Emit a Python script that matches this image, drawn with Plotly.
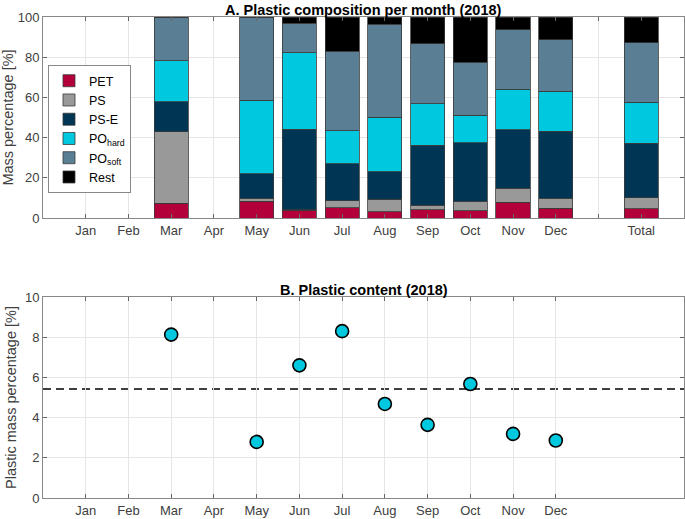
import plotly.graph_objects as go

# ---- data ----
months = ["Jan", "Feb", "Mar", "Apr", "May", "Jun", "Jul", "Aug", "Sep", "Oct", "Nov", "Dec"]
bar_labels = ["Mar", "May", "Jun", "Jul", "Aug", "Sep", "Oct", "Nov", "Dec", "Total"]
bar_pos = [3, 5, 6, 7, 8, 9, 10, 11, 12, 14]

PET = [7.4, 8.4, 3.8, 5.1, 3.1, 4.0, 3.6, 7.8, 4.8, 4.6]
PS = [35.6, 1.4, 0.3, 3.5, 6.3, 2.3, 4.7, 6.9, 5.0, 5.5]
PS_E = [14.9, 12.2, 40.0, 18.3, 13.6, 29.9, 29.2, 29.1, 33.3, 27.1]
PO_hard = [20.4, 36.7, 38.2, 16.6, 27.1, 20.7, 13.6, 20.2, 19.9, 20.3]
PO_soft = [21.7, 41.3, 14.7, 39.5, 46.3, 29.9, 26.4, 29.7, 25.6, 29.8]
Rest = [0.0, 0.0, 3.0, 17.0, 3.6, 13.2, 22.5, 6.3, 11.4, 12.7]

content_pos = [3, 5, 6, 7, 8, 9, 10, 11, 12]
content = [8.13, 2.79, 6.60, 8.30, 4.68, 3.64, 5.67, 3.19, 2.86]
content_mean = 5.42

top_ticks = list(range(1, 15))
top_ticklabels = months + ["", "Total"]
bottom_ticks = list(range(1, 13))

series = [
    ("PET", PET, "#B4003A"),
    ("PS", PS, "#999999"),
    ("PS-E", PS_E, "#003554"),
    ("PO<sub>hard</sub>", PO_hard, "#00C8DE"),
    ("PO<sub>soft</sub>", PO_soft, "#5A7E93"),
    ("Rest", Rest, "#000000"),
]

fig = go.Figure()
for name, vals, col in series:
    fig.add_trace(go.Bar(
        x=bar_pos, y=vals, name=name, width=0.8,
        marker=dict(color=col, line=dict(color="#3a3a3a", width=0.8)),
        xaxis="x", yaxis="y",
    ))

fig.add_trace(go.Scatter(
    x=content_pos, y=content, mode="markers", showlegend=False,
    marker=dict(size=13, color="#00C8DE", line=dict(color="black", width=1.6)),
    xaxis="x2", yaxis="y2",
))

fig.add_shape(type="line", xref="x2 domain", yref="y2", x0=0, x1=1,
              y0=content_mean, y1=content_mean,
              line=dict(color="black", width=1.6, dash="8px,5px"), layer="below")

font_family = "Liberation Sans, Arial, Helvetica, sans-serif"
axcol = "#262626"
gridcol = "#e6e6e6"
tickfont = dict(family=font_family, size=13, color="#404040")
titlefont = dict(family=font_family, size=14.5, color="#404040")

common_x = dict(range=[0, 15], showgrid=True, gridcolor=gridcol, gridwidth=1,
                showline=True, linecolor="#888888", linewidth=1, mirror="ticks",
                ticks="inside", ticklen=4, tickcolor="#666666", zeroline=False,
                tickfont=tickfont, fixedrange=True, automargin=False)
common_y = dict(showgrid=True, gridcolor=gridcol, gridwidth=1,
                showline=True, linecolor="#888888", linewidth=1, mirror="ticks",
                ticks="inside", ticklen=4, tickcolor="#666666", zeroline=False,
                tickfont=tickfont, fixedrange=True, automargin=False)

fig.update_layout(
    width=685, height=519,
    margin=dict(l=43, r=1, t=17, b=21, autoexpand=False),
    paper_bgcolor="white", plot_bgcolor="white",
    barmode="stack",
    font=dict(family=font_family, color=axcol),
    xaxis=dict(common_x, domain=[0, 1], anchor="y",
               tickmode="array", tickvals=top_ticks, ticktext=top_ticklabels),
    yaxis=dict(common_y, domain=[0.5821, 1], anchor="x", range=[0, 100],
               tickvals=[0, 20, 40, 60, 80, 100],
               title=dict(text="Mass percentage [%]", standoff=4, font=titlefont)),
    xaxis2=dict(common_x, domain=[0, 1], anchor="y2",
                tickmode="array", tickvals=bottom_ticks, ticktext=months),
    yaxis2=dict(common_y, domain=[0, 0.4179], anchor="x2", range=[0, 10],
                tickvals=[0, 2, 4, 6, 8, 10],
                title=dict(text="Plastic mass percentage [%]", standoff=4, font=titlefont)),
    legend=dict(x=0.0078, y=0.90, xanchor="left", yanchor="top",
                bgcolor="white", bordercolor="#888888", borderwidth=1,
                font=dict(family=font_family, size=12.5, color="black"),
                traceorder="normal", itemwidth=30, tracegroupgap=0),
    annotations=[
        dict(text="<b>A. Plastic composition per month (2018)</b>", xref="paper", yref="paper",
             x=0.5, y=1, yanchor="bottom", xanchor="center", showarrow=False,
             font=dict(family=font_family, size=14.5, color="black"), yshift=-3),
        dict(text="<b>B. Plastic content (2018)</b>", xref="paper", yref="paper",
             x=0.5, y=0.4179, yanchor="bottom", xanchor="center", showarrow=False,
             font=dict(family=font_family, size=14.5, color="black"), yshift=-3),
    ],
)

fig.write_html("out.html", config={"displayModeBar": False, "staticPlot": True},
               post_script="document.body.style.margin='0';")
